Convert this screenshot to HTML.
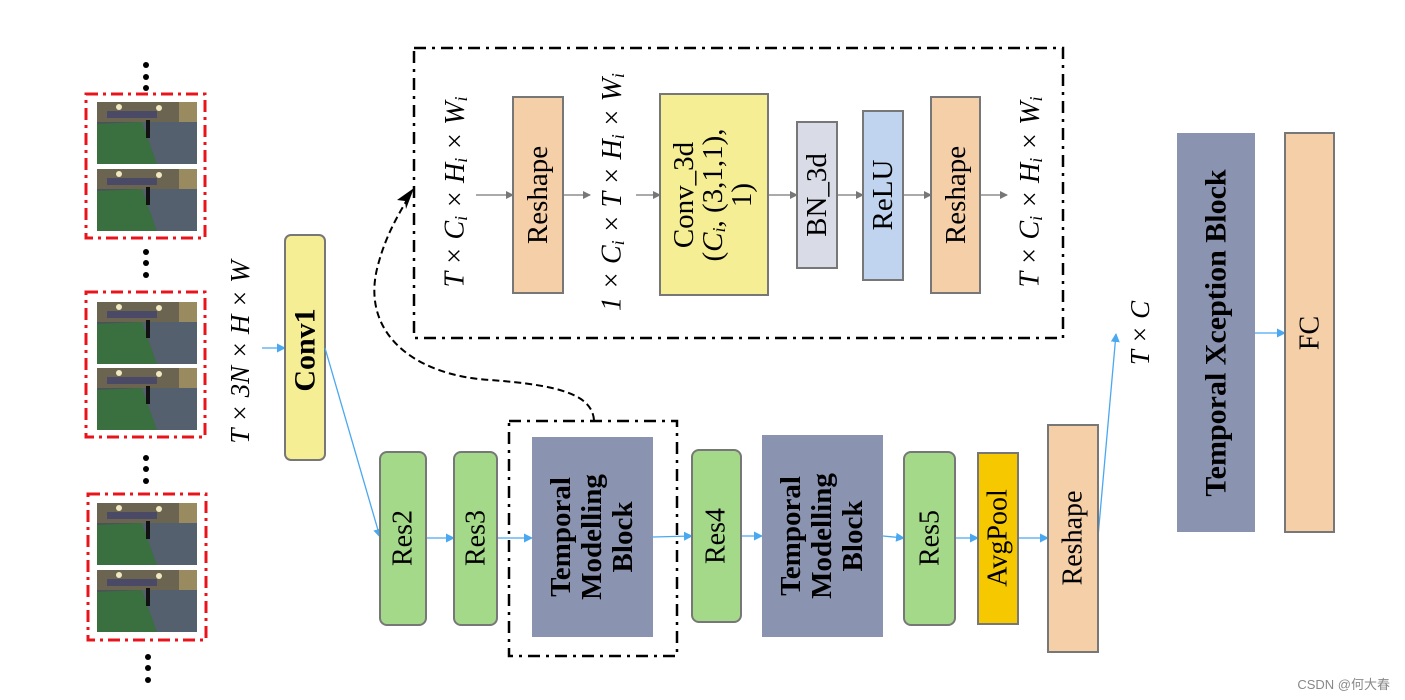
<!DOCTYPE html>
<html><head><meta charset="utf-8"><style>
html,body{margin:0;padding:0;background:#fff;}
svg{display:block;}
text{font-family:"Liberation Serif","Noto Serif CJK SC",serif;fill:#000;}
</style></head><body>
<svg width="1405" height="700" viewBox="0 0 1405 700" xmlns="http://www.w3.org/2000/svg">
<defs>
<g id="ph">
<rect x="0" y="0" width="100" height="62" fill="#4a5458"/>
<rect x="0" y="0" width="100" height="20" fill="#6a6450"/>
<rect x="10" y="9" width="50" height="7" fill="#4a4a66"/>
<circle cx="22" cy="5" r="3" fill="#f0e8c0"/>
<circle cx="62" cy="6" r="3" fill="#f0e8c0"/>
<rect x="82" y="0" width="18" height="22" fill="#9a8a60"/>
<polygon points="0,22 45,20 60,62 0,62" fill="#3a7040"/>
<polygon points="45,20 100,20 100,62 60,62" fill="#55606e"/>
<rect x="49" y="18" width="4" height="18" fill="#111"/>
</g>
<marker id="ga" markerWidth="8" markerHeight="8" refX="7" refY="4" orient="auto" markerUnits="userSpaceOnUse"><path d="M0,0 L8,4 L0,8 z" fill="#777"/></marker>
<marker id="ba" markerWidth="9" markerHeight="9" refX="8" refY="4.5" orient="auto" markerUnits="userSpaceOnUse"><path d="M0,0 L9,4.5 L0,9 z" fill="#4aa8f0"/></marker>
</defs>

<g fill="#000">
<circle cx="146" cy="65" r="3"/><circle cx="146" cy="77" r="3"/><circle cx="146" cy="88" r="3"/>
<circle cx="146" cy="252" r="3"/><circle cx="146" cy="263" r="3"/><circle cx="146" cy="275" r="3"/>
<circle cx="146" cy="458" r="3"/><circle cx="146" cy="469" r="3"/><circle cx="146" cy="481" r="3"/>
<circle cx="148" cy="657" r="3"/><circle cx="148" cy="668" r="3"/><circle cx="148" cy="680" r="3"/>
</g>
<g fill="none" stroke="#e8141c" stroke-width="3" stroke-dasharray="12,5,3,5">
<rect x="86" y="94" width="119" height="144"/>
<rect x="86" y="292" width="119" height="145"/>
<rect x="88" y="494" width="118" height="146"/>
</g>
<use href="#ph" x="97" y="102"/><use href="#ph" x="97" y="169"/>
<use href="#ph" x="97" y="302"/><use href="#ph" x="97" y="368"/>
<use href="#ph" x="97" y="503"/><use href="#ph" x="97" y="570"/>

<text transform="translate(240,352) rotate(-90)" text-anchor="middle" dominant-baseline="central" font-size="27" font-style="italic">T × 3N × H × W</text>
<line x1="262" y1="348" x2="285" y2="348" stroke="#4aa8f0" stroke-width="1.3" marker-end="url(#ba)"/>
<rect x="285" y="235" width="40" height="225" rx="6" fill="#f5ee95" stroke="#777" stroke-width="2"/>
<text transform="translate(305,350) rotate(-90)" text-anchor="middle" dominant-baseline="central" font-size="30" font-weight="bold">Conv1</text>
<line x1="325" y1="348" x2="380" y2="537" stroke="#4aa8f0" stroke-width="1.3" marker-end="url(#ba)"/>

<rect x="414" y="48" width="649" height="290" fill="none" stroke="#000" stroke-width="2.5" stroke-dasharray="12,6,3,6"/>
<g font-size="28" font-style="italic">
<text transform="translate(455,192) rotate(-90)" text-anchor="middle" dominant-baseline="central">T × C<tspan font-size="18" dy="6">i</tspan><tspan dy="-6"> × H</tspan><tspan font-size="18" dy="6">i</tspan><tspan dy="-6"> × W</tspan><tspan font-size="18" dy="6">i</tspan></text>
<text transform="translate(612,192) rotate(-90)" text-anchor="middle" dominant-baseline="central">1 × C<tspan font-size="18" dy="6">i</tspan><tspan dy="-6"> × T × H</tspan><tspan font-size="18" dy="6">i</tspan><tspan dy="-6"> × W</tspan><tspan font-size="18" dy="6">i</tspan></text>
<text transform="translate(1030,192) rotate(-90)" text-anchor="middle" dominant-baseline="central">T × C<tspan font-size="18" dy="6">i</tspan><tspan dy="-6"> × H</tspan><tspan font-size="18" dy="6">i</tspan><tspan dy="-6"> × W</tspan><tspan font-size="18" dy="6">i</tspan></text>
</g>
<g stroke="#777" stroke-width="1.3" marker-end="url(#ga)">
<line x1="476" y1="195" x2="513" y2="195"/>
<line x1="563" y1="195" x2="590" y2="195"/>
<line x1="636" y1="195" x2="660" y2="195"/>
<line x1="768" y1="195" x2="797" y2="195"/>
<line x1="837" y1="195" x2="863" y2="195"/>
<line x1="903" y1="195" x2="931" y2="195"/>
<line x1="980" y1="195" x2="1007" y2="195"/>
</g>
<g stroke="#777" stroke-width="2">
<rect x="513" y="97" width="50" height="196" fill="#f5cfa8"/>
<rect x="660" y="94" width="108" height="201" fill="#f5ee95"/>
<rect x="797" y="122" width="40" height="146" fill="#d9dce6"/>
<rect x="863" y="111" width="40" height="169" fill="#c0d4ef"/>
<rect x="931" y="97" width="49" height="196" fill="#f5cfa8"/>
</g>
<g font-size="29">
<text transform="translate(538,195) rotate(-90)" text-anchor="middle" dominant-baseline="central">Reshape</text>
<text transform="translate(714,195) rotate(-90)" text-anchor="middle" dominant-baseline="central"><tspan x="0" dy="-30">Conv_3d</tspan><tspan x="0" dy="29">(<tspan font-style="italic">C</tspan><tspan font-size="18" font-style="italic" dy="6">i</tspan><tspan dy="-6">, (3,1,1),</tspan></tspan><tspan x="0" dy="29">1)</tspan></text>
<text transform="translate(817,195) rotate(-90)" text-anchor="middle" dominant-baseline="central">BN_3d</text>
<text transform="translate(883,195) rotate(-90)" text-anchor="middle" dominant-baseline="central">ReLU</text>
<text transform="translate(956,195) rotate(-90)" text-anchor="middle" dominant-baseline="central">Reshape</text>
</g>

<path d="M594,420 C592,395 560,385 490,380 C410,375 360,330 378,265 C386,235 398,215 410,195" fill="none" stroke="#000" stroke-width="2" stroke-dasharray="7,4"/>
<path d="M414,188 L397,200 L405,201 L406,209 z" fill="#000"/>

<rect x="509" y="421" width="168" height="235" fill="none" stroke="#000" stroke-width="2.5" stroke-dasharray="12,6,3,6"/>
<g stroke="#4aa8f0" stroke-width="1.3" marker-end="url(#ba)">
<line x1="426" y1="538" x2="454" y2="538"/>
<line x1="497" y1="538" x2="532" y2="538"/>
<line x1="653" y1="537" x2="692" y2="536"/>
<line x1="741" y1="536" x2="762" y2="536"/>
<line x1="883" y1="536" x2="904" y2="538"/>
<line x1="955" y1="538" x2="978" y2="538"/>
<line x1="1018" y1="538" x2="1048" y2="538"/>
<line x1="1098" y1="537" x2="1116" y2="334"/>
<line x1="1255" y1="333" x2="1285" y2="333"/>
</g>
<g stroke="#777" stroke-width="2">
<rect x="380" y="452" width="46" height="173" rx="7" fill="#a5d98a"/>
<rect x="454" y="452" width="43" height="173" rx="7" fill="#a5d98a"/>
<rect x="692" y="450" width="49" height="172" rx="7" fill="#a5d98a"/>
<rect x="904" y="452" width="51" height="173" rx="7" fill="#a5d98a"/>
<rect x="978" y="453" width="40" height="171" fill="#f5c800"/>
<rect x="1048" y="425" width="50" height="227" fill="#f5cfa8"/>
</g>
<rect x="532" y="437" width="121" height="200" fill="#8a93b0"/>
<rect x="762" y="435" width="121" height="202" fill="#8a93b0"/>
<rect x="1177" y="133" width="78" height="399" fill="#8a93b0"/>
<rect x="1285" y="133" width="49" height="399" fill="#f5cfa8" stroke="#777" stroke-width="2"/>
<g font-size="28">
<text transform="translate(403,538) rotate(-90)" text-anchor="middle" dominant-baseline="central">Res2</text>
<text transform="translate(476,538) rotate(-90)" text-anchor="middle" dominant-baseline="central">Res3</text>
<text transform="translate(716,536) rotate(-90)" text-anchor="middle" dominant-baseline="central">Res4</text>
<text transform="translate(930,538) rotate(-90)" text-anchor="middle" dominant-baseline="central">Res5</text>
<text transform="translate(998,538) rotate(-90)" text-anchor="middle" dominant-baseline="central">AvgPool</text>
<text transform="translate(1073,538) rotate(-90)" text-anchor="middle" dominant-baseline="central">Reshape</text>
<text transform="translate(1310,333) rotate(-90)" text-anchor="middle" dominant-baseline="central">FC</text>
</g>
<g font-size="29" font-weight="bold">
<text transform="translate(592,537) rotate(-90)" text-anchor="middle" dominant-baseline="central"><tspan x="0" dy="-31">Temporal</tspan><tspan x="0" dy="31">Modelling</tspan><tspan x="0" dy="31">Block</tspan></text>
<text transform="translate(822,536) rotate(-90)" text-anchor="middle" dominant-baseline="central"><tspan x="0" dy="-31">Temporal</tspan><tspan x="0" dy="31">Modelling</tspan><tspan x="0" dy="31">Block</tspan></text>
<text transform="translate(1216,333) rotate(-90)" text-anchor="middle" dominant-baseline="central" font-size="30">Temporal Xception Block</text>
</g>
<text transform="translate(1140,333) rotate(-90)" text-anchor="middle" dominant-baseline="central" font-size="27" font-style="italic">T × C</text>
<text x="1390" y="689" text-anchor="end" font-size="13" style="font-family:'Liberation Sans','Noto Sans CJK SC',sans-serif;fill:#888">CSDN @何大春</text>
</svg>
</body></html>
